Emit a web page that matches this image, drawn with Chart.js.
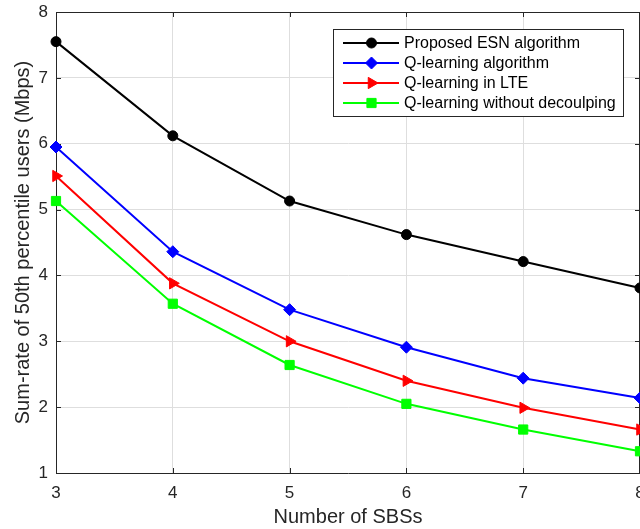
<!DOCTYPE html>
<html>
<head>
<meta charset="utf-8">
<script src="https://cdn.jsdelivr.net/npm/chart.js@4.4.1/dist/chart.umd.min.js"></script>
<style>
html, body { margin: 0; padding: 0; background: #fff; overflow: hidden; width: 640px; height: 529px; }
#wrap { position: absolute; left: 0; top: 0; width: 660px; height: 529px; }
</style>
</head>
<body>
<div id="wrap"><canvas id="c" width="660" height="529"></canvas></div>
<script>
const sbs = [3, 4, 5, 6, 7, 8];
const esnRate = [7.55, 6.12, 5.13, 4.62, 4.21, 3.81];
const qLearnRate = [5.95, 4.36, 3.48, 2.91, 2.44, 2.14];
const qLteRate = [5.51, 3.88, 3.00, 2.40, 1.99, 1.66];
const qNoDecoupleRate = [5.13, 3.57, 2.64, 2.05, 1.66, 1.33];
const seriesNames = ['Proposed ESN algorithm', 'Q-learning algorithm', 'Q-learning in LTE', 'Q-learning without decoulping'];
const xTicks = [3, 4, 5, 6, 7, 8];
const yTicks = [1, 2, 3, 4, 5, 6, 7, 8];
const xTitle = 'Number of SBSs';
const yTitle = 'Sum-rate of 50th percentile users (Mbps)';

const FONT = '"Liberation Sans", Arial, Helvetica, sans-serif';
const AXIS = '#262626';

function pts(vals) { return sbs.map((x, i) => ({ x: x, y: vals[i] })); }

const styles = [
  { color: '#000000', pointStyle: 'circle', radius: 5, rotation: 0 },
  { color: '#0000ff', pointStyle: 'rectRot', radius: 6, rotation: 0 },
  { color: '#ff0000', pointStyle: 'triangle', radius: 6.5, rotation: 90 },
  { color: '#00ff00', pointStyle: 'rect', radius: 6.5, rotation: 0 }
];
const series = [esnRate, qLearnRate, qLteRate, qNoDecoupleRate];

const datasets = series.map((vals, i) => ({
  label: seriesNames[i],
  data: pts(vals),
  borderColor: styles[i].color,
  backgroundColor: styles[i].color,
  pointBackgroundColor: styles[i].color,
  pointBorderColor: styles[i].color,
  pointStyle: styles[i].pointStyle,
  pointRadius: styles[i].radius,
  pointRotation: styles[i].rotation,
  pointBorderWidth: 1,
  borderWidth: 2,
  tension: 0,
  clip: false
}));

const framePlugin = {
  id: 'frame',
  beforeDatasetsDraw(chart) {
    const { ctx, chartArea: a, scales } = chart;
    ctx.save();
    ctx.strokeStyle = AXIS;
    ctx.lineWidth = 1;
    ctx.beginPath();
    ctx.moveTo(a.left, a.top + 0.5); ctx.lineTo(a.right, a.top + 0.5);
    ctx.moveTo(a.right - 0.5, a.top); ctx.lineTo(a.right - 0.5, a.bottom);
    const tl = 5;
    xTicks.forEach(v => {
      const px = Math.round(scales.x.getPixelForValue(v)) + 0.5;
      ctx.moveTo(px, a.bottom); ctx.lineTo(px, a.bottom - tl);
      ctx.moveTo(px, a.top); ctx.lineTo(px, a.top + tl);
    });
    yTicks.forEach(v => {
      const py = Math.round(scales.y.getPixelForValue(v)) + 0.5;
      ctx.moveTo(a.left, py); ctx.lineTo(a.left + tl, py);
      ctx.moveTo(a.right, py); ctx.lineTo(a.right - tl, py);
    });
    ctx.stroke();
    ctx.restore();
  },
  afterDraw(chart) {
    const { ctx } = chart;
    const bx = 333.5, by = 29.5, bw = 290, bh = 87;
    ctx.save();
    ctx.fillStyle = '#ffffff';
    ctx.fillRect(bx, by, bw, bh);
    ctx.strokeStyle = AXIS;
    ctx.lineWidth = 1;
    ctx.strokeRect(bx, by, bw, bh);
    ctx.font = '16px ' + FONT;
    ctx.textBaseline = 'middle';
    ctx.fillStyle = '#000';
    chart.data.datasets.forEach((ds, i) => {
      const y = 43 + i * 20;
      ctx.strokeStyle = ds.borderColor;
      ctx.lineWidth = 2;
      ctx.beginPath();
      ctx.moveTo(343, y); ctx.lineTo(399, y);
      ctx.stroke();
      ctx.fillStyle = ds.pointBackgroundColor;
      ctx.strokeStyle = ds.pointBorderColor;
      ctx.lineWidth = 1;
      Chart.helpers.drawPoint(ctx, { pointStyle: ds.pointStyle, radius: ds.pointRadius, rotation: ds.pointRotation, borderWidth: 1 }, 371.5, y);
      ctx.fillStyle = '#000';
      ctx.fillText(ds.label, 404, y + 1);
    });
    ctx.restore();
  }
};

new Chart(document.getElementById('c'), {
  type: 'line',
  data: { datasets: datasets },
  options: {
    responsive: false,
    animation: false,
    devicePixelRatio: 1,
    layout: { padding: { left: 0, top: 12, right: 20, bottom: 0 } },
    plugins: { legend: { display: false }, tooltip: { enabled: false } },
    scales: {
      x: {
        type: 'linear', min: 3, max: 8,
        afterFit(s) { s.height = 56; s.paddingLeft = 0; s.paddingRight = 0; },
        afterBuildTicks(s) { s.ticks = xTicks.map(v => ({ value: v })); },
        grid: { color: '#dedede', lineWidth: 1, drawTicks: false },
        border: { display: true, color: AXIS, width: 1 },
        ticks: { color: AXIS, font: { family: FONT, size: 17 }, padding: 10, maxRotation: 0 },
        title: { display: true, text: xTitle, color: AXIS, font: { family: FONT, size: 20 }, padding: { top: 0, bottom: 0 } }
      },
      y: {
        type: 'linear', min: 1, max: 8,
        afterFit(s) { s.width = 56; s.paddingTop = 0; s.paddingBottom = 0; },
        afterBuildTicks(s) { s.ticks = yTicks.map(v => ({ value: v })); },
        grid: { color: '#dedede', lineWidth: 1, drawTicks: false },
        border: { display: true, color: AXIS, width: 1 },
        ticks: { color: AXIS, font: { family: FONT, size: 17 }, padding: 8 },
        title: { display: true, text: yTitle, color: AXIS, font: { family: FONT, size: 20 }, padding: { top: 11, bottom: 0 } }
      }
    }
  },
  plugins: [framePlugin]
});
</script>
</body>
</html>
